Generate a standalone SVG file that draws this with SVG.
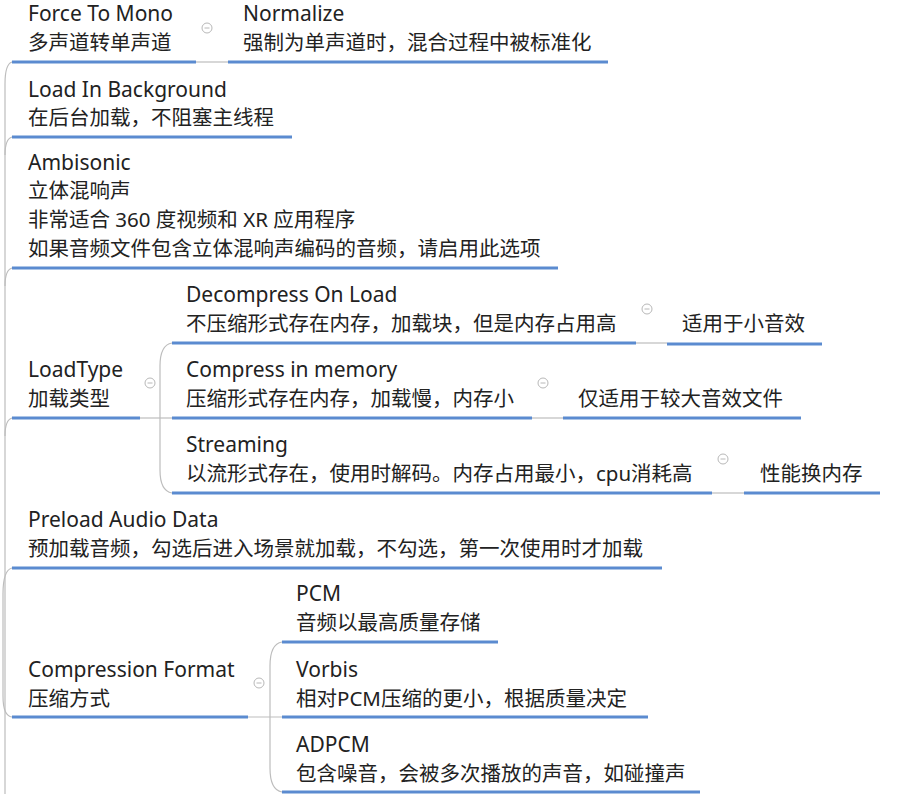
<svg xmlns="http://www.w3.org/2000/svg" width="904" height="794" viewBox="0 0 904 794">
<style>
text{font-family:"Noto Sans","Noto Sans CJK SC",sans-serif;font-size:20.5px;fill:#222}
text.e{font-size:21px}
.u{stroke:#5b8bd0;stroke-width:3;fill:none}
.c{stroke:#bdbdbd;stroke-width:1.2;fill:none}
.col circle{fill:#fff;stroke:#b8b8b8;stroke-width:1}
.col line{stroke:#b8b8b8;stroke-width:1}
</style>
<rect width="904" height="794" fill="#fff"/>
<g id="connectors">
<path class="c" d="M5,794 V84 Q5,64 12,62"/>
<path class="c" d="M5,155 Q5,139 12,137"/>
<path class="c" d="M5,286 Q5,270 12,268"/>
<path class="c" d="M5,436 Q5,420 12,418"/>
<path class="c" d="M3,594 Q3,570 12,568"/>
<path class="c" d="M3,594 V696 Q3,716 12,717"/>
<path class="c" d="M196,62 H228"/>
<path class="c" d="M140,418 H172"/>
<path class="c" d="M172,343 Q160,345 160,366 V470 Q160,491 172,493"/>
<path class="c" d="M636,343 H667"/>
<path class="c" d="M532,418 H563"/>
<path class="c" d="M712,493 H744"/>
<path class="c" d="M248,717 H282"/>
<path class="c" d="M282,642 Q270,644 270,666 V768 Q270,790 282,792"/>
</g>
<g id="force-to-mono"><text class="e" x="28" y="21">Force To Mono</text><text x="28" y="50">多声道转单声道</text><path class="u" d="M12,62 H196"/></g>
<g id="normalize"><text class="e" x="243" y="21">Normalize</text><text x="243" y="50">强制为单声道时，混合过程中被标准化</text><path class="u" d="M228,62 H608"/></g>
<g id="load-in-background"><text class="e" x="28" y="97">Load In Background</text><text x="28" y="125">在后台加载，不阻塞主线程</text><path class="u" d="M12,137 H292"/></g>
<g id="ambisonic"><text class="e" x="28" y="170">Ambisonic</text><text x="28" y="198">立体混响声</text><text x="28" y="227">非常适合 360 度视频和 XR 应用程序</text><text x="28" y="256">如果音频文件包含立体混响声编码的音频，请启用此选项</text><path class="u" d="M12,268 H558"/></g>
<g id="loadtype"><text class="e" x="28" y="377">LoadType</text><text x="28" y="406">加载类型</text><path class="u" d="M12,418 H140"/></g>
<g id="decompress-on-load"><text class="e" x="186" y="302">Decompress On Load</text><text x="186" y="331">不压缩形式存在内存，加载块，但是内存占用高</text><path class="u" d="M172,343 H636"/></g>
<g id="small-sfx"><text x="682" y="331">适用于小音效</text><path class="u" d="M667,344 H822"/></g>
<g id="compress-in-memory"><text class="e" x="186" y="377">Compress in memory</text><text x="186" y="406">压缩形式存在内存，加载慢，内存小</text><path class="u" d="M172,418 H532"/></g>
<g id="large-sfx"><text x="578" y="406">仅适用于较大音效文件</text><path class="u" d="M563,418 H801"/></g>
<g id="streaming"><text class="e" x="186" y="452">Streaming</text><text x="186" y="481">以流形式存在，使用时解码。内存占用最小，cpu消耗高</text><path class="u" d="M172,493 H712"/></g>
<g id="perf-for-memory"><text x="760" y="481">性能换内存</text><path class="u" d="M744,493 H880"/></g>
<g id="preload-audio-data"><text class="e" x="28" y="527">Preload Audio Data</text><text x="28" y="556">预加载音频，勾选后进入场景就加载，不勾选，第一次使用时才加载</text><path class="u" d="M12,568 H662"/></g>
<g id="compression-format"><text class="e" x="28" y="677">Compression Format</text><text x="28" y="706">压缩方式</text><path class="u" d="M12,717 H248"/></g>
<g id="pcm"><text class="e" x="296" y="601">PCM</text><text x="296" y="630">音频以最高质量存储</text><path class="u" d="M282,642 H498"/></g>
<g id="vorbis"><text class="e" x="296" y="677">Vorbis</text><text x="296" y="706">相对PCM压缩的更小，根据质量决定</text><path class="u" d="M282,717 H648"/></g>
<g id="adpcm"><text class="e" x="296" y="752">ADPCM</text><text x="296" y="781">包含噪音，会被多次播放的声音，如碰撞声</text><path class="u" d="M282,792 H700"/></g>
<g class="col">
<g id="col-1"><circle cx="207" cy="28" r="5"/><line x1="204.5" y1="28" x2="209.5" y2="28"/></g>
<g id="col-2"><circle cx="150" cy="383" r="5"/><line x1="147.5" y1="383" x2="152.5" y2="383"/></g>
<g id="col-3"><circle cx="647" cy="309" r="5"/><line x1="644.5" y1="309" x2="649.5" y2="309"/></g>
<g id="col-4"><circle cx="543" cy="383" r="5"/><line x1="540.5" y1="383" x2="545.5" y2="383"/></g>
<g id="col-5"><circle cx="723" cy="459" r="5"/><line x1="720.5" y1="459" x2="725.5" y2="459"/></g>
<g id="col-6"><circle cx="259" cy="683" r="5"/><line x1="256.5" y1="683" x2="261.5" y2="683"/></g>
</g>
</svg>
